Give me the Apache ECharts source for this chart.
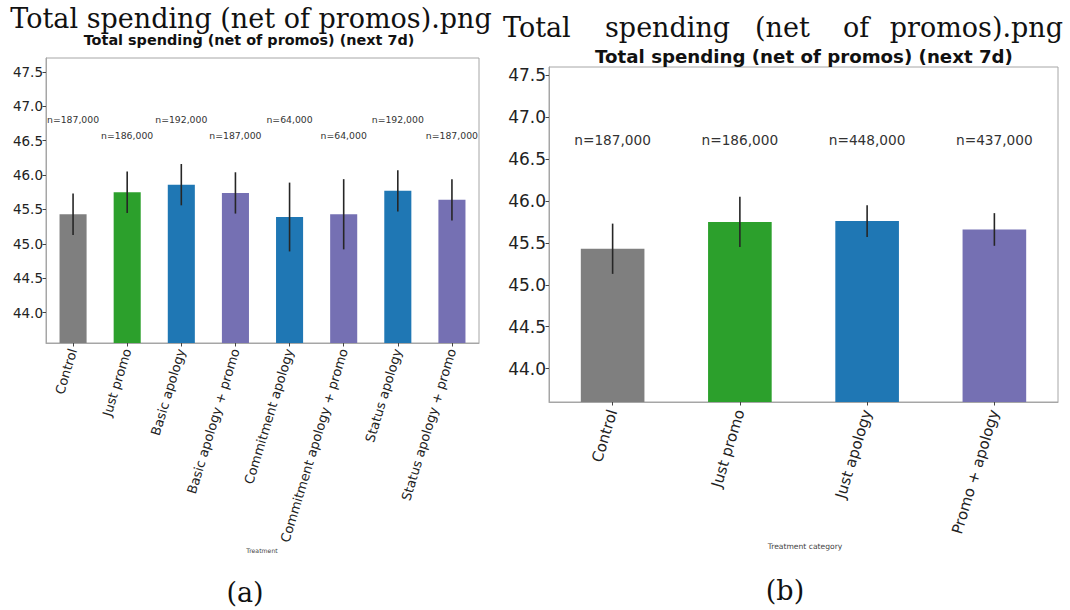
<!DOCTYPE html>
<html>
<head>
<meta charset="utf-8">
<title>Total spending (net of promos)</title>
<script src="https://cdn.jsdelivr.net/npm/echarts@6/dist/echarts.min.js"></script>
<style>
  html, body { margin: 0; padding: 0; background: #ffffff; }
  #chart { width: 1070px; height: 610px; }
</style>
</head>
<body>
<div id="chart"></div>
<script>
// ---- Panel (a): individual treatments ----
const treatments = ['Control', 'Just promo', 'Basic apology', 'Basic apology + promo',
  'Commitment apology', 'Commitment apology + promo', 'Status apology', 'Status apology + promo'];
const treatmentMeans = [45.43, 45.75, 45.86, 45.74, 45.39, 45.43, 45.77, 45.64];
const treatmentErrors = [0.30, 0.30, 0.30, 0.30, 0.50, 0.51, 0.30, 0.30];
const treatmentCounts = [187000, 186000, 192000, 187000, 64000, 64000, 192000, 187000];

// ---- Panel (b): treatment categories ----
const categories = ['Control', 'Just promo', 'Just apology', 'Promo + apology'];
const categoryMeans = [45.43, 45.75, 45.76, 45.66];
const categoryErrors = [0.30, 0.30, 0.19, 0.195];
const categoryCounts = [187000, 186000, 448000, 437000];

// shared y tick labels
const yTicks = [44.0, 44.5, 45.0, 45.5, 46.0, 46.5, 47.0, 47.5];

// bar colours (style)
const GRAY = '#7f7f7f', GREEN = '#2ca02c', BLUE = '#1f77b4', PURPLE = '#7570b3';
const treatmentColors = [GRAY, GREEN, BLUE, PURPLE, BLUE, PURPLE, BLUE, PURPLE];
const categoryColors = [GRAY, GREEN, BLUE, PURPLE];

const FONT = 'DejaVu Sans';
const SERIF = 'DejaVu Serif';
const FRAME = '#a6a6a6';
const INK = '#222222';

function fmtN(n) { return 'n=' + n.toLocaleString('en-US'); }

function yAxisFor(gridIndex, min, max, fontSize) {
  return {
    type: 'value', gridIndex, min, max,
    axisLine: { show: true, lineStyle: { color: FRAME, width: 1 } },
    axisTick: { show: true, length: 3.5, lineStyle: { color: '#444' }, customValues: yTicks },
    axisLabel: {
      customValues: yTicks, margin: 3, color: INK, fontFamily: FONT, fontSize,
      formatter: v => v.toFixed(1)
    },
    splitLine: { show: false }
  };
}

function xAxisFor(gridIndex, data, fontSize, margin) {
  return {
    type: 'category', gridIndex, data,
    axisLine: { show: true, lineStyle: { color: FRAME, width: 1 } },
    axisTick: { show: true, alignWithLabel: true, length: 3.5, lineStyle: { color: '#444' } },
    axisLabel: { rotate: 73, interval: 0, margin, color: INK, fontFamily: FONT, fontSize },
    splitLine: { show: false }
  };
}

function barSeries(idx, means, colors) {
  return {
    type: 'bar', xAxisIndex: idx, yAxisIndex: idx, barWidth: '50%',
    data: means.map((m, i) => ({ value: m, itemStyle: { color: colors[i] } })),
    silent: true, animation: false
  };
}

function errorSeries(idx, means, errs) {
  return {
    type: 'custom', xAxisIndex: idx, yAxisIndex: idx,
    encode: { x: 0, y: [1, 2] },
    data: means.map((m, i) => [i, m - errs[i], m + errs[i]]),
    renderItem: (params, api) => {
      const lo = api.coord([api.value(0), api.value(1)]);
      const hi = api.coord([api.value(0), api.value(2)]);
      return {
        type: 'line',
        shape: { x1: lo[0], y1: lo[1], x2: hi[0], y2: hi[1] },
        style: { stroke: '#262626', lineWidth: 1.6 }
      };
    },
    silent: true, animation: false, z: 5
  };
}

// n= labels placed at a fixed height in data units (rows alternate when staggered)
function countSeries(idx, counts, rows, fontSize) {
  return {
    type: 'custom', xAxisIndex: idx, yAxisIndex: idx,
    encode: { x: 0, y: 1 },
    data: counts.map((n, i) => [i, rows[i % rows.length], n]),
    renderItem: (params, api) => {
      const p = api.coord([api.value(0), api.value(1)]);
      return {
        type: 'text',
        style: {
          x: p[0], y: p[1], text: fmtN(api.value(2)),
          align: 'center', verticalAlign: 'middle',
          fontFamily: FONT, fontSize, fill: '#333'
        }
      };
    },
    silent: true, animation: false, z: 6
  };
}

function txt(text, x, y, fontSize, opts) {
  return {
    type: 'text', x, y, silent: true,
    style: Object.assign({
      text, fontSize, fontFamily: FONT, fill: INK,
      align: 'center', verticalAlign: 'middle'
    }, opts || {})
  };
}

const chart = echarts.init(document.getElementById('chart'), null, { renderer: 'svg' });

chart.setOption({
  backgroundColor: '#ffffff',
  animation: false,
  grid: [
    { left: 46, top: 58, width: 433, height: 285, show: true, borderColor: FRAME, borderWidth: 1,
      containLabel: false, outerBoundsMode: 'none' },
    { left: 549, top: 67, width: 509, height: 335, show: true, borderColor: FRAME, borderWidth: 1,
      containLabel: false, outerBoundsMode: 'none' }
  ],
  xAxis: [
    xAxisFor(0, treatments, 13, 6),
    xAxisFor(1, categories, 15, 8)
  ],
  yAxis: [
    yAxisFor(0, 43.56, 47.7, 13.5),
    yAxisFor(1, 43.6, 47.6, 17)
  ],
  series: [
    barSeries(0, treatmentMeans, treatmentColors),
    errorSeries(0, treatmentMeans, treatmentErrors),
    countSeries(0, treatmentCounts, [46.81, 46.58], 9.3),
    barSeries(1, categoryMeans, categoryColors),
    errorSeries(1, categoryMeans, categoryErrors),
    countSeries(1, categoryCounts, [46.73], 13.7)
  ],
  graphic: [
    // file headers
    txt('Total spending (net of promos).png', 251, 18, 27, { fontFamily: SERIF, fill: '#111' }),
    txt('Total', 503, 27, 27, { fontFamily: SERIF, fill: '#111', align: 'left' }),
    txt('spending', 605, 27, 27, { fontFamily: SERIF, fill: '#111', align: 'left' }),
    txt('(net', 755, 27, 27, { fontFamily: SERIF, fill: '#111', align: 'left' }),
    txt('of', 843, 27, 27, { fontFamily: SERIF, fill: '#111', align: 'left' }),
    txt('promos).png', 1063, 27, 27, { fontFamily: SERIF, fill: '#111', align: 'right' }),
    // chart titles
    txt('Total spending (net of promos) (next 7d)', 249, 40, 14.4, { fontWeight: 'bold', fill: '#111' }),
    txt('Total spending (net of promos) (next 7d)', 804, 56, 18.2, { fontWeight: 'bold', fill: '#111' }),
    // axis names
    txt('Treatment', 262, 550, 6.2, { fill: '#444' }),
    txt('Treatment category', 805, 546, 7.6, { fill: '#444' }),
    // sub-figure captions
    txt('(a)', 245, 592, 27, { fontFamily: SERIF, fill: '#111' }),
    txt('(b)', 785, 590, 27, { fontFamily: SERIF, fill: '#111' })
  ]
});
</script>
</body>
</html>
